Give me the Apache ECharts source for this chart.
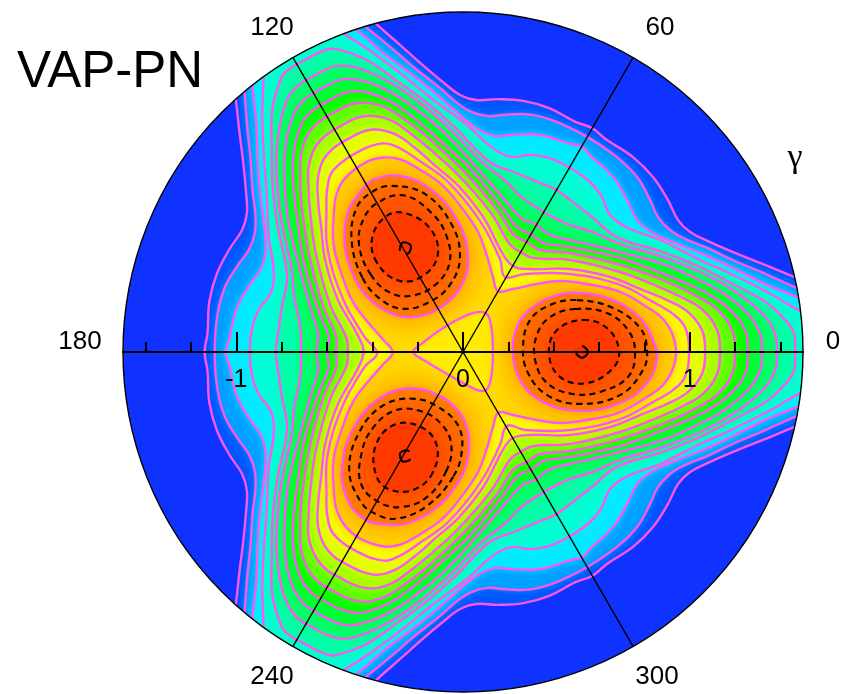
<!DOCTYPE html>
<html><head><meta charset="utf-8">
<script src="https://cdn.jsdelivr.net/npm/echarts@6/dist/echarts.min.js"></script>
<style>html,body{margin:0;padding:0;background:#fff}#c{width:844px;height:694px}</style>
</head><body><div id="c"></div>
<script>
// contour levels, [x,y] in axis units, in the sector from the arm (0 deg) to the valley (60 deg)
const L1=[[1.699,0],[1.580,.287],[1.452,.335],[1.324,.388],[1.213,.432],[1.090,.485],[1.002,.529],[.949,.582],[.904,.671],[.838,.772],[.750,.860],[.635,.935],[.569,.988]];
const L2=[[1.699,0],[1.588,.229],[1.460,.287],[1.324,.349],[1.209,.397],[1.077,.459],[.979,.499],[.913,.538],[.860,.596],[.825,.671],[.768,.772],[.679,.860],[.547,.949]];
const L3=[[1.699,0],[1.588,.181],[1.469,.243],[1.324,.304],[1.191,.371],[1.059,.432],[.949,.476],[.838,.525],[.768,.582],[.724,.671],[.662,.772],[.560,.869],[.521,.909]];
const L4=[[1.699,0],[1.588,.124],[1.478,.185],[1.341,.265],[1.191,.340],[1.046,.406],[.869,.494],[.728,.547],[.649,.604],[.613,.684],[.560,.750],[.470,.814]];
const L5=[[1.465,0],[1.460,.084],[1.430,.132],[1.341,.216],[1.191,.300],[1.046,.375],[.882,.441],[.679,.507],[.574,.591],[.472,.671],[.413,.715]];
const L6=[[1.385,0],[1.376,.084],[1.319,.172],[1.191,.274],[1.046,.353],[.882,.419],[.693,.476],[.574,.529],[.472,.560],[.357,.618]];
const L7=[[1.319,0],[1.310,.084],[1.253,.172],[1.147,.260],[1.015,.331],[.882,.388],[.693,.441],[.551,.476],[.472,.494],[.384,.516],[.324,.560]];
const L8=[[1.257,0],[1.244,.097],[1.178,.185],[1.090,.251],[.971,.309],[.838,.362],[.693,.415],[.472,.463],[.353,.481],[.300,.521]];
const L9=[[1.200,0],[1.187,.097],[1.125,.185],[1.037,.243],[.913,.304],[.693,.384],[.472,.437],[.340,.450],[.280,.485]];
const L10=[[1.134,0],[1.121,.097],[1.059,.185],[.971,.238],[.856,.291],[.693,.353],[.472,.406],[.309,.415],[.254,.441]];
const L11=[[1.068,0],[1.054,.097],[.993,.176],[.900,.229],[.781,.278],[.649,.331],[.472,.366],[.296,.366],[.221,.379]];
const L12=[[.997,0],[.979,.110],[.926,.168],[.838,.221],[.693,.296],[.472,.344],[.274,.344],[.185,.331]];
const L13=[[.940,0],[.922,.084],[.878,.150],[.825,.190],[.693,.265],[.547,.300],[.428,.313],[.326,.300],[.221,.278],[.154,.269]];
// closed contours round the minimum on the 0 deg arm
const ringP=[[.516,.260],[.662,.229],[.781,.150],[.838,.053],[.856,-.026],[.812,-.137],[.693,-.225],[.516,-.260],[.353,-.221],[.260,-.137],[.221,-.022],[.238,.110],[.309,.199],[.415,.251]];
const dashOuter=[[.503,.229],[.662,.194],[.781,.106],[.812,.009],[.794,-.079],[.693,-.190],[.516,-.229],[.371,-.190],[.287,-.093],[.265,.022],[.296,.141],[.384,.207]];
const dashMiddle=[[.494,.190],[.635,.172],[.728,.097],[.759,0],[.728,-.110],[.604,-.176],[.485,-.185],[.371,-.137],[.318,-.035],[.326,.075],[.384,.154]];
const dashInner=[[.529,.141],[.635,.106],[.688,.009],[.662,-.071],[.547,-.137],[.428,-.110],[.379,-.004],[.415,.097]];
const dashCore=[[.525,.026],[.551,0],[.525,-.026],[.498,0]];
// contour round the origin
const triangle=[[.088,.176],[.119,.141],[.132,0],[.119,-.137],[.088,-.172],[.018,-.146],[-.190,-.026],[-.221,0],[-.190,.031],[-.088,.106],[.018,.163]];

const peakAngles=[0,119,241];
const spokeAngles=[60,120,240,300];
const shortTicks=[-1.4,-1.2,-.8,-.6,-.4,-.2,.2,.4,.6,.8,1.2,1.4];
const longTicks=[-1,0,1];
const textLabels=[['0',1.632,.044],['60',.869,1.429],['120',-.843,1.429],['180',-1.690,.044],['240',-.843,-1.434],['300',.856,-1.434]];
const gammaLabel=['γ',1.465,.856];

const BLUE='rgb(16,50,255)',PINK='rgb(255,85,245)';
const D2R=Math.PI/180;
const polar=p=>[Math.hypot(p[0],p[1]),Math.atan2(p[1],p[0])/D2R];
const cart=(r,a)=>[r*Math.cos(a*D2R),r*Math.sin(a*D2R)];
function foldSector(lvl){
  const pol=lvl.map(polar),out=[];
  const seq=[[0,60,1],[117,60,-1],[119,180,1],[241,180,-1],[243,300,1],[360,300,-1]];
  seq.forEach(([a,v,dir],i)=>{
    const pts=dir>0?pol:pol.slice().reverse();
    pts.forEach((p,j)=>{
      if(j===0&&i>0)return;
      if(i===5&&j===pts.length-1)return;
      out.push(cart(p[0],a+(v-a)*p[1]/60));
    });
  });
  return out;
}
const rotate=(lvl,ang)=>lvl.map(p=>{const q=polar(p);return cart(q[0],q[1]+ang);});

const outerLevels=[L1,L2,L3,L4,L5,L6,L7,L8,L9,L10,L11,L12,L13].map(foldSector);
const outerFill=['rgb(0,85,255)','rgb(0,160,255)','rgb(0,235,255)','rgb(0,255,215)','rgb(0,255,170)','rgb(0,255,110)','rgb(0,255,60)','rgb(0,255,0)','rgb(90,255,0)','rgb(165,255,0)','rgb(225,255,0)','rgb(250,255,0)','rgb(255,220,0)'];
const outerBlur=[0,8,8,8,12,12,12,12,12,12,12,12,10];
const items=[];
outerLevels.forEach((pts,i)=>items.push({pts,fill:outerFill[i],blur:outerBlur[i],stroke:PINK}));
items.push({pts:triangle,fill:'rgb(255,238,0)',blur:18,stroke:PINK});
[[ringP,'rgb(255,125,0)',34,PINK,null],[dashOuter,'rgb(255,105,0)',10,'#000',[6,4.5]],[dashMiddle,'rgb(255,85,0)',8,'#000',[6,4.5]],[dashInner,'rgb(255,58,0)',8,'#000',[6,4.5]],[dashCore,'rgb(255,50,0)',0,'#000',[28,13]]].forEach(([l,fill,blur,stroke,dash])=>{
  peakAngles.forEach(a=>items.push({pts:rotate(l,a),fill,blur,stroke,dash}));
});

function clipOf(api){const c=api.coord([0,0]);return {type:'circle',shape:{cx:c[0],cy:c[1],r:api.size([1.5,0])[0]}};}
function poly(api,it,style){
  return {type:'polygon',shape:{points:it.pts.map(p=>api.coord(p)),smooth:0.4},style};
}
const chart=echarts.init(document.getElementById('c'),null,{renderer:'canvas'});
chart.setOption({
  animation:false,
  title:{text:'VAP-PN',left:12,top:42,textStyle:{fontFamily:'Liberation Sans',fontSize:51,fontWeight:'normal',color:'#000'}},
  grid:{left:123,top:12,width:680,height:680,outerBoundsMode:'none'},
  xAxis:[
    {type:'value',min:-1.5,max:1.5,position:'bottom',z:10,splitLine:{show:false},
     axisLine:{show:true,onZero:true,lineStyle:{color:'#000',width:2.2}},
     axisTick:{show:true,inside:true,length:10,customValues:shortTicks,lineStyle:{color:'#000',width:2}},
     axisLabel:{show:false}},
    {type:'value',min:-1.5,max:1.5,position:'bottom',offset:-340,z:10,splitLine:{show:false},
     axisLine:{show:false,onZero:false},
     axisTick:{show:true,inside:true,length:20,customValues:longTicks,lineStyle:{color:'#000',width:2}},
     axisLabel:{show:true,margin:16,customValues:longTicks,formatter:v=>String(v),fontFamily:'Liberation Sans',fontSize:25,color:'#000',showMinLabel:true,showMaxLabel:true}}
  ],
  yAxis:{type:'value',min:-1.5,max:1.5,show:false,splitLine:{show:false}},
  series:[
    {type:'custom',coordinateSystem:'cartesian2d',clip:false,z:2,silent:true,data:[[0,0]],
     renderItem:(p,api)=>{
       const clip=clipOf(api);
       const ch=[{type:'circle',shape:{cx:clip.shape.cx,cy:clip.shape.cy,r:clip.shape.r},style:{fill:BLUE}}];
       items.forEach(it=>ch.push(poly(api,it,{fill:it.fill,shadowBlur:it.blur,shadowColor:it.fill})));
       items.forEach(it=>ch.push(poly(api,it,{fill:'none',stroke:it.stroke,lineWidth:it.dash?2.1:2.4,lineDash:it.dash||null})));
       return {type:'group',clipPath:clip,children:ch};
     }},
    {type:'custom',coordinateSystem:'cartesian2d',clip:false,z:5,silent:true,data:[[0,0]],
     renderItem:(p,api)=>{
       const c=clipOf(api).shape;
       const ch=spokeAngles.map(a=>{const s=api.coord([0,0]),e=api.coord(cart(1.5,a));
         return {type:'line',shape:{x1:s[0],y1:s[1],x2:e[0],y2:e[1]},style:{stroke:'#000',lineWidth:1.4}};});
       ch.push({type:'circle',shape:{cx:c.cx,cy:c.cy,r:c.r},style:{fill:'none',stroke:'#000',lineWidth:1.4}});
       textLabels.forEach(t=>{const q=api.coord([t[1],t[2]]);
         ch.push({type:'text',style:{text:t[0],x:q[0],y:q[1],fill:'#000',font:'26px "Liberation Sans"',textAlign:'center',textVerticalAlign:'middle'}});});
       const g=api.coord([gammaLabel[1],gammaLabel[2]]);
       ch.push({type:'text',style:{text:gammaLabel[0],x:g[0],y:g[1],fill:'#000',font:'34px "Liberation Serif"',textAlign:'center',textVerticalAlign:'middle'}});
       return {type:'group',children:ch};
     }}
  ]
});
</script></body></html>
